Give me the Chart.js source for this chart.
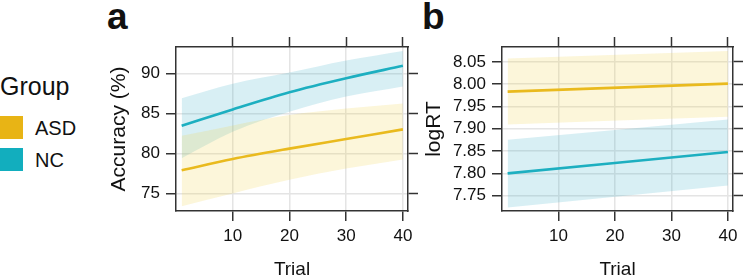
<!DOCTYPE html>
<html>
<head>
<meta charset="utf-8">
<script src="https://cdn.jsdelivr.net/npm/chart.js@4.4.1/dist/chart.umd.min.js"></script>
<style>
body { margin:0; width:744px; height:276px; overflow:hidden; background:#fff; position:relative; font-family:'Liberation Sans', Arial, sans-serif; }
.abs { position:absolute; }
.letter { font-weight:bold; font-size:37px; line-height:37px; color:#111; }
.key { width:23px; height:23px; }
.lab { font-size:20px; line-height:20px; color:#111; }
</style>
</head>
<body>
<div class="abs letter" style="left:107px;top:-2px">a</div>
<div class="abs letter" style="left:422px;top:-2px">b</div>

<div class="abs" style="left:0;top:74px;font-size:25px;line-height:25px;color:#111">Group</div>
<div class="abs key" style="left:0;top:116px;background:#E8B415"></div>
<div class="abs key" style="left:0;top:148px;background:#12AEBE"></div>
<div class="abs lab" style="left:35px;top:118px">ASD</div>
<div class="abs lab" style="left:35px;top:150px">NC</div>

<div class="abs" style="left:100px;top:30px;width:320px;height:260px"><canvas id="acc_canvas"></canvas></div>
<div class="abs" style="left:420px;top:30px;width:324px;height:260px"><canvas id="rt_canvas"></canvas></div>

<script>
// shared
const trial = [1, 10, 20, 30, 40];
const trialTicks = [10, 20, 30, 40];

// panel a - accuracy
const acc_asd = [77.9, 79.3, 80.6, 81.8, 83.0];
const acc_asd_hi = [82.2, 83.5, 84.8, 85.6, 86.25];
const acc_asd_lo = [73.4, 75.0, 76.7, 78.1, 79.25];
const acc_nc = [83.45, 85.5, 87.65, 89.4, 90.95];
const acc_nc_hi = [86.9, 88.7, 90.1, 91.6, 92.8];
const acc_nc_lo = [79.4, 82.7, 85.2, 87.1, 88.35];
const accTicks = [75, 80, 85, 90];

// panel b - logRT
const rt_trial = [1, 40];
const rt_asd = [7.9835, 8.0014];
const rt_asd_hi = [8.0576, 8.0746];
const rt_asd_lo = [7.9097, 7.927];
const rt_nc = [7.800, 7.8478];
const rt_nc_hi = [7.8755, 7.921];
const rt_nc_lo = [7.7236, 7.773];
const rtTicks = [7.75, 7.80, 7.85, 7.90, 7.95, 8.00, 8.05];

const ASD_COL = '#E8B415', NC_COL = '#12AEBE';
const ASD_BAND = 'rgba(238,208,70,0.20)', NC_BAND = 'rgba(70,178,205,0.21)';
const FONT = "'Liberation Sans', Arial, sans-serif";

function pts(xs, ys) { return xs.map((x, i) => ({x: x, y: ys[i]})); }

function band(xs, hi, lo, col) {
    return [
        {data: pts(xs, hi), fill: '+1', backgroundColor: col, borderWidth: 0, pointRadius: 0, cubicInterpolationMode: 'monotone'},
        {data: pts(xs, lo), fill: false, borderWidth: 0, pointRadius: 0, cubicInterpolationMode: 'monotone'}
    ];
}
function line(xs, ys, col) {
    return {data: pts(xs, ys), fill: false, borderColor: col, borderWidth: 2.6, pointRadius: 0, cubicInterpolationMode: 'monotone'};
}

function fixTicks(vals) { return function (s) { s.ticks = vals.map(v => ({value: v})); }; }
function fixW(w) { return function (s) { s.width = w; }; }
function fixH(h) { return function (s) { s.height = h; }; }

function make_config(datasets, ymin, ymax, yvals, fmt, lw, rw, ytitlePad) {
    const gridCol = '#E4E4E4';
    const edge = {display: true, color: '#333', width: 1.5};
    return {
        type: 'line',
        data: {datasets: datasets},
        options: {
            responsive: true, maintainAspectRatio: false, animation: false,
            layout: {padding: 0},
            plugins: {legend: {display: false}, tooltip: {enabled: false}},
            scales: {
                x: {
                    type: 'linear', position: 'bottom', min: 0, max: 40.9,
                    afterBuildTicks: fixTicks(trialTicks), afterFit: fixH(79),
                    border: edge,
                    grid: {color: gridCol, lineWidth: 1.5, tickLength: 10, tickColor: '#333', tickWidth: 1.5},
                    ticks: {color: '#111', padding: 5, maxRotation: 0, font: {family: FONT, size: 17}},
                    title: {display: true, text: 'Trial', color: '#111', font: {family: FONT, size: 19, lineHeight: 1}, padding: {top: 0, bottom: 11}}
                },
                x2: {
                    type: 'linear', position: 'top', min: 0, max: 40.9,
                    afterBuildTicks: fixTicks(trialTicks), afterFit: fixH(17),
                    border: edge,
                    grid: {drawOnChartArea: false, tickLength: 10, tickColor: '#333', tickWidth: 1.5},
                    ticks: {display: false}
                },
                y: {
                    type: 'linear', position: 'left', min: ymin, max: ymax,
                    afterBuildTicks: fixTicks(yvals), afterFit: fixW(lw),
                    border: edge,
                    grid: {color: gridCol, lineWidth: 1.5, tickLength: 10, tickColor: '#333', tickWidth: 1.5},
                    ticks: {color: '#111', padding: 6, font: {family: FONT, size: 17}, callback: fmt},
                    title: {display: true, text: '', color: '#111', font: {family: FONT, size: 21, lineHeight: 1}, padding: {top: ytitlePad, bottom: 0}}
                },
                y2: {
                    type: 'linear', position: 'right', min: ymin, max: ymax,
                    afterBuildTicks: fixTicks(yvals), afterFit: fixW(rw),
                    border: edge,
                    grid: {drawOnChartArea: false, tickLength: 10, tickColor: '#333', tickWidth: 1.5},
                    ticks: {display: false}
                }
            }
        }
    };
}

const acc_sets = []
    .concat(band(trial, acc_asd_hi, acc_asd_lo, ASD_BAND))
    .concat(band(trial, acc_nc_hi, acc_nc_lo, NC_BAND));
acc_sets.push(line(trial, acc_asd, ASD_COL));
acc_sets.push(line(trial, acc_nc, NC_COL));

const acc_config = make_config(acc_sets, 72.8, 93.3, accTicks, v => v, 76, 12, 9);
acc_config.options.scales.y.title.text = 'Accuracy (%)';
const acc_chart = new Chart(document.getElementById('acc_canvas'), acc_config);

const rt_sets = []
    .concat(band(rt_trial, rt_asd_hi, rt_asd_lo, ASD_BAND))
    .concat(band(rt_trial, rt_nc_hi, rt_nc_lo, NC_BAND));
rt_sets.push(line(rt_trial, rt_asd, ASD_COL));
rt_sets.push(line(rt_trial, rt_nc, NC_COL));

const rt_config = make_config(rt_sets, 7.7155, 8.0836, rtTicks, v => v.toFixed(2), 82, 11, 4);
rt_config.options.scales.y.title.text = 'logRT';
const rt_chart = new Chart(document.getElementById('rt_canvas'), rt_config);
</script>
</body>
</html>
